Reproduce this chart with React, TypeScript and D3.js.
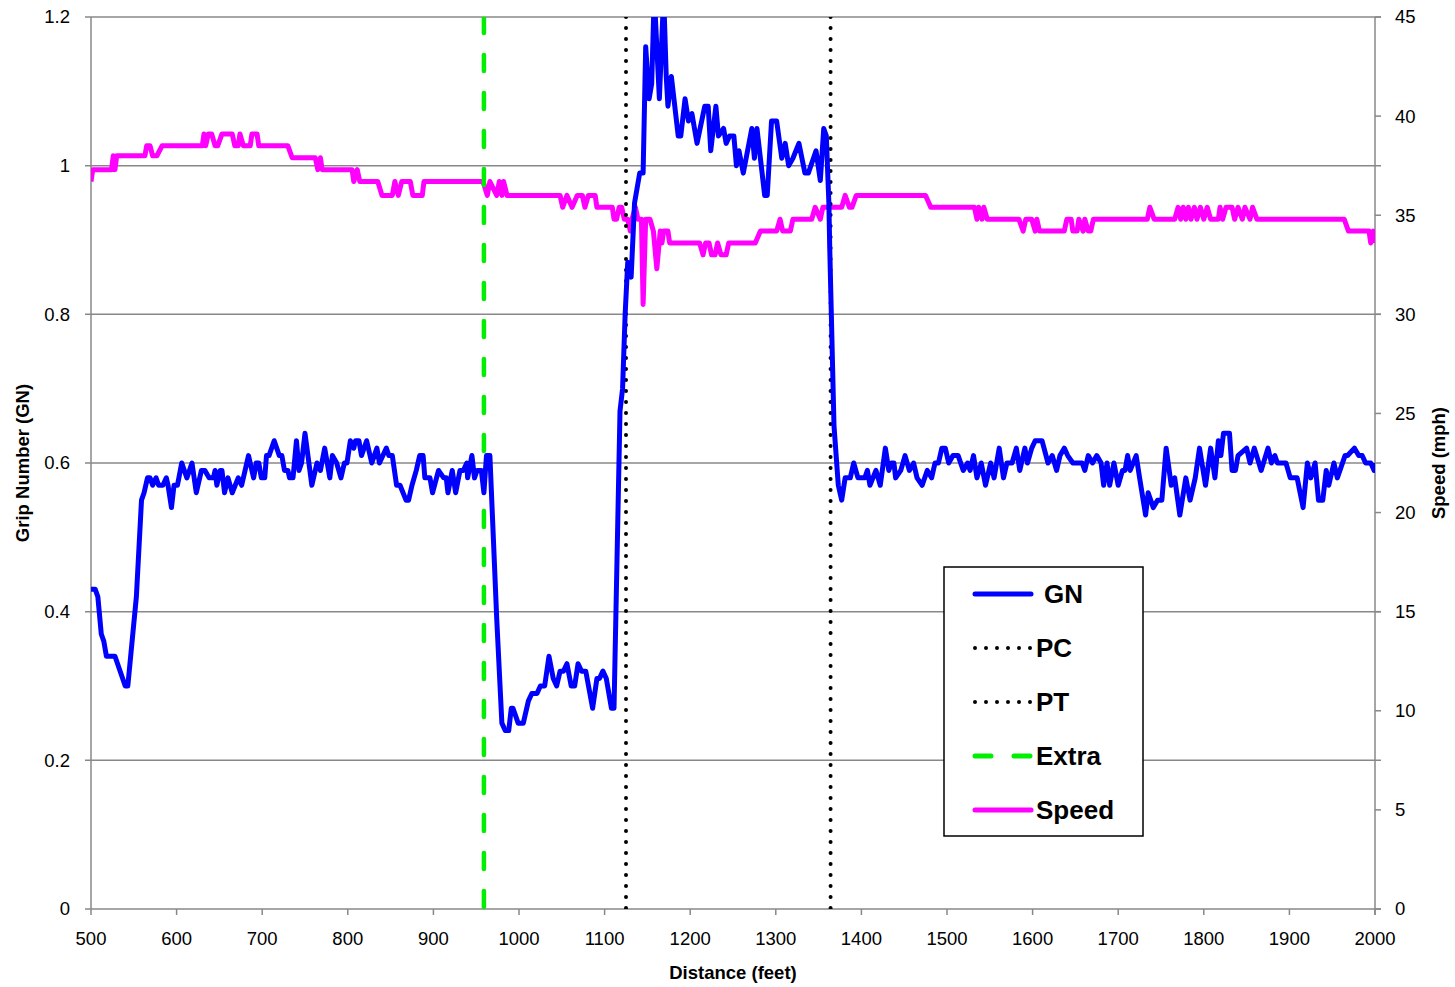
import React from 'react';
import * as d3 from 'd3';

// Grip number along the runway: [distance (feet), GN]
const gnData: [number, number][] = [
  [500, 0.43], [505, 0.43], [508, 0.42], [512, 0.37], [515, 0.36], [518, 0.34], [528, 0.34],
  [540, 0.30], [543, 0.30], [553, 0.42], [559, 0.55], [562, 0.56], [566, 0.58], [569, 0.58],
  [572, 0.57], [576, 0.58], [579, 0.57], [584, 0.57], [588, 0.58], [590, 0.57], [594, 0.54],
  [597, 0.57], [601, 0.57], [606, 0.60], [612, 0.58], [618, 0.60], [623, 0.56], [629, 0.59],
  [633, 0.59], [638, 0.58], [643, 0.58], [645, 0.59], [647, 0.57], [651, 0.59], [653, 0.59],
  [656, 0.56], [660, 0.58], [665, 0.56], [672, 0.58], [676, 0.57], [684, 0.61], [690, 0.58],
  [693, 0.60], [696, 0.60], [699, 0.58], [703, 0.58], [705, 0.61], [708, 0.61], [714, 0.63],
  [720, 0.61], [723, 0.61], [726, 0.59], [730, 0.59], [732, 0.58], [736, 0.58], [740, 0.63],
  [743, 0.59], [746, 0.60], [750, 0.64], [758, 0.57], [764, 0.60], [768, 0.59], [773, 0.62],
  [779, 0.58], [782, 0.61], [787, 0.60], [792, 0.58], [796, 0.60], [799, 0.60], [803, 0.63],
  [807, 0.62], [809, 0.63], [813, 0.63], [816, 0.61], [822, 0.63], [828, 0.60], [834, 0.62],
  [837, 0.60], [841, 0.61], [845, 0.62], [848, 0.61], [852, 0.61], [857, 0.57], [861, 0.57],
  [868, 0.55], [871, 0.55], [875, 0.57], [880, 0.59], [884, 0.61], [888, 0.61], [890, 0.58],
  [896, 0.58], [899, 0.56], [906, 0.59], [912, 0.58], [915, 0.58], [917, 0.56], [922, 0.59],
  [926, 0.56], [931, 0.59], [935, 0.59], [939, 0.60], [940, 0.58], [945, 0.61], [948, 0.58],
  [951, 0.59], [956, 0.59], [959, 0.56], [962, 0.61], [966, 0.61], [974, 0.39], [980, 0.25],
  [984, 0.24], [988, 0.24], [991, 0.27], [993, 0.27], [999, 0.25], [1005, 0.25], [1011, 0.28],
  [1015, 0.29], [1021, 0.29], [1025, 0.30], [1030, 0.30], [1035, 0.34], [1040, 0.31],
  [1044, 0.30], [1048, 0.32], [1052, 0.32], [1056, 0.33], [1061, 0.30], [1065, 0.30],
  [1069, 0.33], [1073, 0.32], [1078, 0.32], [1086, 0.27], [1091, 0.31], [1094, 0.31],
  [1098, 0.32], [1102, 0.31], [1108, 0.27], [1111, 0.27], [1118, 0.67], [1121, 0.70],
  [1124, 0.80], [1127, 0.87], [1131, 0.85], [1135, 0.95], [1141, 0.99], [1145, 0.99],
  [1148, 1.16], [1152, 1.09], [1155, 1.11], [1158, 1.23], [1164, 1.09], [1169, 1.23],
  [1172, 1.12], [1174, 1.08], [1178, 1.12], [1186, 1.04], [1189, 1.04], [1194, 1.09],
  [1198, 1.06], [1202, 1.07], [1208, 1.03], [1217, 1.08], [1221, 1.08], [1224, 1.02],
  [1230, 1.08], [1233, 1.04], [1239, 1.05], [1242, 1.03], [1246, 1.04], [1251, 1.04],
  [1254, 1.00], [1257, 1.02], [1262, 0.99], [1272, 1.05], [1275, 1.01], [1278, 1.05],
  [1287, 0.96], [1290, 0.96], [1295, 1.06], [1301, 1.06], [1307, 1.01], [1311, 1.03],
  [1315, 1.00], [1320, 1.01], [1327, 1.03], [1334, 0.99], [1338, 0.99], [1347, 1.02],
  [1352, 0.98], [1356, 1.05], [1359, 1.04], [1362, 0.95], [1363, 0.89], [1368, 0.65],
  [1373, 0.57], [1377, 0.55], [1381, 0.58], [1387, 0.58], [1391, 0.60], [1396, 0.58],
  [1404, 0.58], [1407, 0.59], [1410, 0.57], [1417, 0.59], [1422, 0.57], [1428, 0.62],
  [1432, 0.59], [1435, 0.60], [1438, 0.60], [1440, 0.58], [1446, 0.59], [1451, 0.61],
  [1456, 0.59], [1461, 0.60], [1465, 0.58], [1471, 0.57], [1477, 0.59], [1482, 0.58],
  [1486, 0.60], [1490, 0.60], [1494, 0.62], [1498, 0.62], [1502, 0.60], [1507, 0.61],
  [1513, 0.61], [1519, 0.59], [1524, 0.60], [1527, 0.59], [1531, 0.61], [1535, 0.58],
  [1540, 0.60], [1545, 0.57], [1551, 0.60], [1555, 0.58], [1561, 0.62], [1566, 0.58],
  [1570, 0.60], [1576, 0.60], [1581, 0.62], [1585, 0.59], [1591, 0.62], [1594, 0.60],
  [1599, 0.62], [1603, 0.63], [1611, 0.63], [1618, 0.60], [1623, 0.61], [1628, 0.59],
  [1632, 0.61], [1637, 0.62], [1641, 0.61], [1647, 0.60], [1658, 0.60], [1661, 0.59],
  [1665, 0.61], [1670, 0.60], [1675, 0.61], [1680, 0.60], [1683, 0.57], [1687, 0.60],
  [1690, 0.57], [1695, 0.60], [1700, 0.57], [1705, 0.59], [1708, 0.59], [1711, 0.61],
  [1714, 0.59], [1721, 0.61], [1725, 0.58], [1732, 0.53], [1735, 0.56], [1741, 0.54],
  [1746, 0.55], [1751, 0.55], [1756, 0.62], [1762, 0.57], [1766, 0.58], [1772, 0.53],
  [1779, 0.58], [1784, 0.55], [1790, 0.58], [1795, 0.62], [1802, 0.57], [1808, 0.62],
  [1813, 0.58], [1817, 0.63], [1820, 0.61], [1823, 0.64], [1830, 0.64], [1833, 0.59],
  [1837, 0.59], [1840, 0.61], [1850, 0.62], [1854, 0.60], [1859, 0.62], [1867, 0.59],
  [1875, 0.62], [1879, 0.60], [1883, 0.61], [1886, 0.60], [1896, 0.60], [1901, 0.58],
  [1909, 0.58], [1916, 0.54], [1921, 0.60], [1925, 0.58], [1930, 0.60], [1934, 0.55],
  [1939, 0.55], [1943, 0.59], [1946, 0.57], [1952, 0.60], [1956, 0.58], [1965, 0.61],
  [1968, 0.61], [1976, 0.62], [1981, 0.61], [1985, 0.61], [1989, 0.60], [1995, 0.60],
  [1999, 0.59], [2000, 0.60],
];

// Vehicle speed: [distance (feet), mph]
const speedData: [number, number][] = [
  [500, 36.7], [502, 37.3], [524, 37.3], [526, 38.0], [528, 37.3], [530, 38.0], [563, 38.0],
  [565, 38.5], [569, 38.5], [572, 38.0], [577, 38.0], [583, 38.5], [630, 38.5], [632, 39.1],
  [634, 38.5], [637, 39.1], [641, 39.1], [645, 38.5], [648, 38.5], [653, 39.1], [665, 39.1],
  [668, 38.5], [672, 38.5], [674, 39.1], [678, 38.5], [686, 38.5], [688, 39.1], [694, 39.1],
  [696, 38.5], [730, 38.5], [735, 37.9], [762, 37.9], [765, 37.3], [768, 37.9], [770, 37.3],
  [805, 37.3], [807, 36.7], [811, 37.3], [814, 36.7], [835, 36.7], [840, 36.0], [852, 36.0],
  [855, 36.7], [859, 36.0], [863, 36.7], [873, 36.7], [876, 36.0], [887, 36.0], [889, 36.7],
  [958, 36.7], [963, 36.0], [966, 36.7], [974, 36.0], [977, 36.7], [980, 36.0], [982, 36.7],
  [986, 36.0], [1048, 36.0], [1051, 35.4], [1056, 36.0], [1062, 35.4], [1068, 36.0],
  [1074, 36.0], [1077, 35.4], [1081, 36.0], [1089, 36.0], [1091, 35.4], [1109, 35.4],
  [1111, 34.8], [1114, 34.8], [1117, 35.4], [1120, 35.4], [1123, 34.8], [1127, 34.8],
  [1130, 34.2], [1132, 34.8], [1136, 35.4], [1139, 34.8], [1143, 34.8], [1145, 30.5],
  [1148, 34.8], [1153, 34.8], [1157, 34.2], [1161, 32.3], [1165, 34.2], [1167, 33.6],
  [1169, 34.2], [1174, 34.2], [1176, 33.6], [1211, 33.6], [1215, 33.0], [1218, 33.6],
  [1222, 33.6], [1225, 33.0], [1229, 33.0], [1232, 33.6], [1236, 33.0], [1242, 33.0],
  [1245, 33.6], [1276, 33.6], [1282, 34.2], [1301, 34.2], [1305, 34.8], [1308, 34.2],
  [1317, 34.2], [1320, 34.8], [1342, 34.8], [1346, 35.4], [1352, 34.8], [1355, 35.4],
  [1377, 35.4], [1381, 36.0], [1386, 35.4], [1389, 35.4], [1394, 36.0], [1475, 36.0],
  [1481, 35.4], [1532, 35.4], [1535, 34.8], [1537, 35.4], [1541, 34.8], [1543, 35.4],
  [1547, 34.8], [1584, 34.8], [1589, 34.2], [1592, 34.8], [1599, 34.8], [1603, 34.2],
  [1605, 34.8], [1608, 34.2], [1637, 34.2], [1640, 34.8], [1645, 34.8], [1647, 34.2],
  [1652, 34.2], [1654, 34.8], [1659, 34.2], [1661, 34.8], [1665, 34.2], [1668, 34.2],
  [1671, 34.8], [1734, 34.8], [1737, 35.4], [1742, 34.8], [1766, 34.8], [1770, 35.4],
  [1773, 34.8], [1776, 35.4], [1779, 34.8], [1782, 35.4], [1785, 34.8], [1789, 35.4],
  [1792, 34.8], [1796, 35.4], [1800, 34.8], [1804, 35.4], [1808, 34.8], [1817, 34.8],
  [1819, 35.4], [1822, 34.8], [1826, 35.4], [1833, 35.4], [1836, 34.8], [1840, 35.4],
  [1845, 34.8], [1848, 35.4], [1854, 34.8], [1857, 35.4], [1862, 34.8], [1964, 34.8],
  [1969, 34.2], [1993, 34.2], [1995, 33.6], [1998, 34.2], [2000, 33.6],
];

const extraAt = 959;
const pcAt = 1125;
const ptAt = 1364;

const xTicks = [500, 600, 700, 800, 900, 1000, 1100, 1200, 1300, 1400, 1500, 1600, 1700, 1800, 1900, 2000];
const gnTicks = [0, 0.2, 0.4, 0.6, 0.8, 1, 1.2];
const speedTicks = [0, 5, 10, 15, 20, 25, 30, 35, 40, 45];

const legendItems = [
  { label: 'GN', color: '#0000ff', dash: null, width: 5, x1: 975, x2: 1031, tx: 1044 },
  { label: 'PC', color: '#000000', dash: '0 11', width: 4, x1: 975, x2: 1031, tx: 1036 },
  { label: 'PT', color: '#000000', dash: '0 11', width: 4, x1: 975, x2: 1031, tx: 1036 },
  { label: 'Extra', color: '#00ee00', dash: '16 23', width: 5, x1: 975, x2: 1031, tx: 1036 },
  { label: 'Speed', color: '#ff00ff', dash: null, width: 5, x1: 975, x2: 1031, tx: 1036 },
];

const W = 1455;
const H = 987;
const left = 91;
const right = 1375;
const top = 17;
const bottom = 909;
const grid = '#888888';
const font = '"Liberation Sans", Arial, sans-serif';

const App = () => {
  const x = d3.scaleLinear().domain([500, 2000]).range([left, right]);
  const yGn = d3.scaleLinear().domain([0, 1.2]).range([bottom, top]);
  const ySpeed = d3.scaleLinear().domain([0, 45]).range([bottom, top]);

  const gnLine = d3.line<[number, number]>().x(d => x(d[0])).y(d => yGn(d[1]));
  const speedLine = d3.line<[number, number]>().x(d => x(d[0])).y(d => ySpeed(d[1]));

  const markers = [
    { at: extraAt, color: '#00ee00', dash: '16 22', width: 4.5 },
    { at: pcAt, color: '#000', dash: '0 11', width: 4 },
    { at: ptAt, color: '#000', dash: '0 11', width: 4 },
  ];

  return (
    <svg width={W} height={H} style={{ position: 'absolute', left: 0, top: 0, background: '#fff' }}>
      <defs>
        <clipPath id="plot">
          <rect x={left} y={top} width={right - left} height={bottom - top} />
        </clipPath>
      </defs>

      {/* gridlines and axes */}
      {gnTicks.map(t => (
        <line key={t} x1={left - 6} x2={right + 6} y1={yGn(t)} y2={yGn(t)} stroke={grid} strokeWidth={1.5} />
      ))}
      <line x1={left} x2={left} y1={top} y2={bottom} stroke={grid} strokeWidth={1.5} />
      <line x1={right} x2={right} y1={top} y2={bottom + 6} stroke={grid} strokeWidth={1.5} />
      {speedTicks.map(t => (
        <line key={t} x1={right} x2={right + 6} y1={ySpeed(t)} y2={ySpeed(t)} stroke={grid} strokeWidth={1.5} />
      ))}
      {xTicks.map(t => (
        <line key={t} x1={x(t)} x2={x(t)} y1={bottom} y2={bottom + 6} stroke={grid} strokeWidth={1.5} />
      ))}

      {/* tick labels */}
      <g fontFamily={font} fontSize={18.5} fill="#000">
        {gnTicks.map(t => (
          <text key={t} x={70} y={yGn(t)} dy="0.35em" textAnchor="end">{d3.format('~g')(t)}</text>
        ))}
        {speedTicks.map(t => (
          <text key={t} x={1395} y={ySpeed(t)} dy="0.35em" textAnchor="start">{t}</text>
        ))}
        {xTicks.map(t => (
          <text key={t} x={x(t)} y={945} textAnchor="middle">{t}</text>
        ))}
      </g>

      {/* axis titles */}
      <g fontFamily={font} fontSize={18.5} fontWeight="bold" fill="#000">
        <text x={733} y={979} textAnchor="middle">Distance (feet)</text>
        <text transform={`translate(29,463) rotate(-90)`} textAnchor="middle">Grip Number (GN)</text>
        <text transform={`translate(1445,463) rotate(-90)`} textAnchor="middle">Speed (mph)</text>
      </g>

      {/* data */}
      <g clipPath="url(#plot)">
        <path d={speedLine(speedData) ?? ''} fill="none" stroke="#ff00ff" strokeWidth={5} strokeLinejoin="round" />
        {markers.map(m => (
          <line key={m.at} x1={x(m.at)} x2={x(m.at)} y1={top} y2={bottom}
            stroke={m.color} strokeWidth={m.width} strokeDasharray={m.dash} strokeLinecap="round" />
        ))}
        <path d={gnLine(gnData) ?? ''} fill="none" stroke="#0000ff" strokeWidth={5} strokeLinejoin="round" />
      </g>

      {/* legend */}
      <g>
        <rect x={944} y={567} width={199} height={269} fill="#fff" stroke="#000" strokeWidth={1.5} />
        {legendItems.map((it, i) => {
          const cy = 594 + i * 54;
          return (
            <g key={it.label}>
              <line x1={it.x1} x2={it.x2} y1={cy} y2={cy} stroke={it.color} strokeWidth={it.width}
                strokeDasharray={it.dash ?? undefined} strokeLinecap="round" />
              <text x={it.tx} y={cy} dy="0.36em" fontFamily={font} fontSize={26}
                fontWeight="bold" fill="#000">{it.label}</text>
            </g>
          );
        })}
      </g>
    </svg>
  );
};

export default App;
